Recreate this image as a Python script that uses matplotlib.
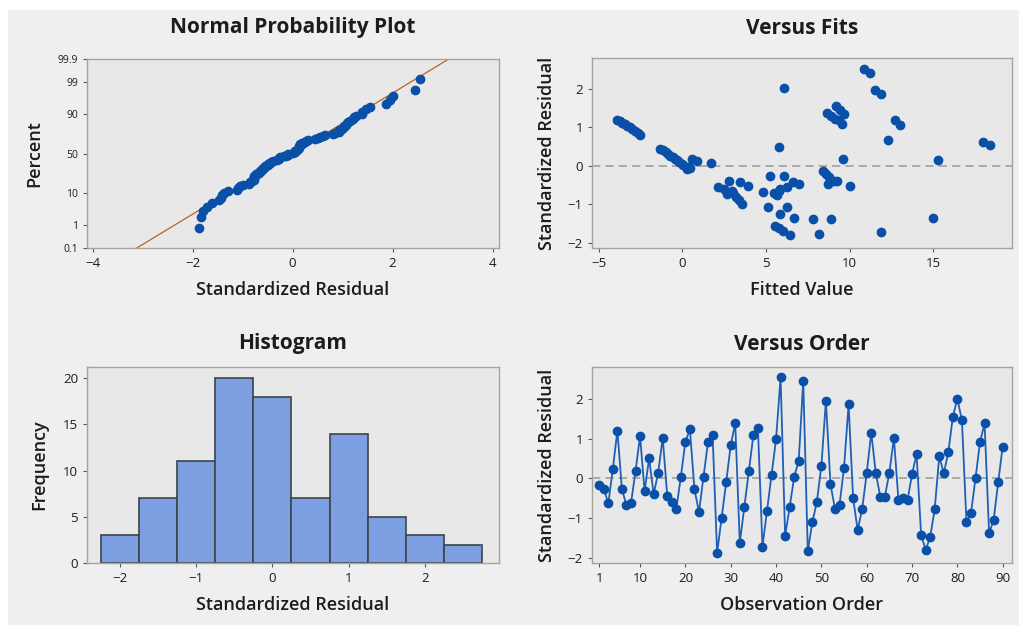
"""
Minitab-style four-in-one residual plots
"""
from statistics import NormalDist

import numpy as np
import matplotlib
matplotlib.use("Agg")
import matplotlib.pyplot as plt
from matplotlib.patches import Rectangle

plt.rcParams['font.family'] = ['Open Sans', 'DejaVu Sans']

# standardized residuals in observation order
resid = [-0.17, -0.26, -0.63, 0.24, 1.20, -0.28, -0.67, -0.63, 0.18, 1.06,
         -0.32, 0.50, -0.40, 0.14, 1.02, -0.44, -0.59, -0.77, 0.04, 0.92,
         1.23, -0.28, -0.85, 0.04, 0.92, 1.10, -1.88, -0.99, -0.10, 0.84,
         1.38, -1.62, -0.73, 0.18, 1.09, 1.27, -1.72, -0.82, 0.08, 0.98,
         2.54, -1.44, -0.73, 0.04, 0.44, 2.45, -1.83, -1.11, -0.59, 0.31,
         1.95, -0.14, -0.77, -0.67, 0.27, 1.86, -0.50, -1.30, -0.77, 0.13,
         1.15, 0.13, -0.46, -0.46, 0.14, 1.02, -0.55, -0.50, -0.55, 0.10,
         0.61, -1.42, -1.80, -1.48, -0.77, 0.55, 0.13, 0.65, 1.55, 2.00,
         1.46, -1.09, -0.88, 0.00, 0.92, 1.38, -1.38, -1.05, -0.10, 0.80]
order = list(range(1, len(resid) + 1))

# versus fits scatter (fitted value, standardized residual)
fit_x = [-3.90, -3.75, -3.60, -3.45, -3.30, -3.15, -3.00, -2.85, -2.68, -2.52,
         -1.34, -1.15, -0.98, -0.85, -0.74, -0.58, -0.44, -0.30, -0.18, -0.05,
         0.06, 0.26, 0.46, 0.56, 0.90, 0.35, 1.70,
         2.10, 2.46, 2.65, 2.81, 2.95, 3.05, 3.19, 3.37, 3.55, 3.45, 3.90,
         4.85, 5.25, 5.15, 5.45, 5.62, 5.75, 5.85, 5.81, 5.55, 5.80,
         6.00, 6.45, 6.25, 6.10, 6.25, 6.60, 6.99, 6.65, 6.10, 5.79, 5.65,
         7.80, 8.20, 8.88, 8.40, 8.60, 8.80, 9.04, 9.24, 8.74, 10.04,
         9.60, 8.64, 8.90, 9.14, 9.20, 9.44, 9.64, 9.54, 9.35,
         10.88, 11.24, 11.54, 11.88, 12.69, 13.03, 12.30, 11.88, 15.29, 14.97,
         17.96, 18.38]
fit_y = [1.20, 1.16, 1.11, 1.08, 1.03, 1.00, 0.95, 0.91, 0.85, 0.80,
         0.45, 0.40, 0.35, 0.30, 0.27, 0.23, 0.19, 0.15, 0.11, 0.06,
         0.03, -0.08, -0.06, 0.18, 0.13, -0.02, 0.08,
         -0.56, -0.60, -0.73, -0.38, -0.65, -0.71, -0.80, -0.88, -0.99, -0.43, -0.52,
         -0.67, -0.25, -1.07, -0.70, -0.72, -0.64, -0.60, -1.25, -1.57, -1.62,
         -1.68, -1.80, -1.07, -0.25, -0.56, -0.42, -0.48, -1.34, 2.01, 0.48, -0.75,
         -1.38, -1.76, -1.38, -0.13, -0.22, -0.30, -0.39, -0.39, -0.48, -0.52,
         0.17, 1.37, 1.30, 1.22, 1.56, 1.45, 1.34, 1.10, 1.20,
         2.52, 2.42, 1.97, 1.86, 1.18, 1.05, 0.67, -1.72, 0.16, -1.36,
         0.63, 0.54]

hist_bins = [-2.25, -1.75, -1.25, -0.75, -0.25, 0.25, 0.75, 1.25, 1.75, 2.25, 2.75]
pct_ticks = [0.1, 1, 10, 50, 90, 99, 99.9]
pct_labels = ["0.1", "1", "10", "50", "90", "99", "99.9"]
order_ticks = [1, 10, 20, 30, 40, 50, 60, 70, 80, 90]

BLUE = "#0a50a8"
LINE_BLUE = "#1f5fb5"
AX_BG = "#e8e8e8"
FIG_BG = "#efefef"
TXT = "#1c1c1c"

fig = plt.figure(figsize=(10.19, 6.25), dpi=100, facecolor="white")
W, H = 1019, 625
fig.patches.append(Rectangle((8 / W, 0), 1 - 8 / W, 1 - 10 / H, transform=fig.transFigure,
                             facecolor=FIG_BG, edgecolor="none", zorder=-10))


def make_ax(l, t, r, b):
    ax = fig.add_axes([l / W, 1 - b / H, (r - l) / W, (b - t) / H])
    ax.set_facecolor(AX_BG)
    for s in ax.spines.values():
        s.set_color("#a4a49a")
        s.set_linewidth(1.0)
    ax.tick_params(colors="#555555", labelcolor=TXT, labelsize=9.5, length=3, width=0.8)
    return ax


def style(ax, title, xlabel, ylabel, title_y, ylab_px):
    # title placed in pixel coords, centred over the axes
    bb = ax.get_position()
    fig.text((bb.x0 + bb.x1) / 2, 1 - title_y / H, title, ha="center", va="center",
             fontsize=15, fontweight="bold", color=TXT)
    ax.set_xlabel(xlabel, fontsize=13, color=TXT, labelpad=8, fontweight="semibold")
    ax.set_ylabel(ylabel, fontsize=13, color=TXT, fontweight="semibold")
    ax.yaxis.set_label_coords(-ylab_px / (bb.width * W), 0.5)


# --- Normal probability plot
ax1 = make_ax(87, 59, 499, 248)
nd = NormalDist()
srt = np.sort(resid)
n = len(srt)
zpos = [nd.inv_cdf((i - 0.3) / (n + 0.4)) for i in range(1, n + 1)]
mu, sd = np.mean(resid), np.std(resid, ddof=1)
zlo, zhi = nd.inv_cdf(0.001), nd.inv_cdf(0.999)
ax1.plot([mu + sd * zlo, mu + sd * zhi], [zlo, zhi], color="#b5651d", lw=0.9, zorder=2)
ax1.plot(srt, zpos, "o", color=BLUE, ms=6, zorder=3)
ax1.set_xlim(-4.11, 4.13)
ax1.set_ylim(zlo, zhi)
ax1.set_xticks([-4, -2, 0, 2, 4])
ax1.set_yticks([nd.inv_cdf(p / 100) for p in pct_ticks])
ax1.set_yticklabels(pct_labels, fontsize=7.5)
style(ax1, "Normal Probability Plot", "Standardized Residual", "Percent", 28, 44)

# --- Versus fits
ax2 = make_ax(592, 58, 1012, 248)
ax2.axhline(0, color="#a0a098", lw=1.2, ls=(0, (5, 3)), zorder=1)
ax2.plot(fit_x, fit_y, "o", color=BLUE, ms=6, zorder=3)
ax2.set_xlim(-5.41, 19.72)
ax2.set_ylim(-2.13, 2.8)
ax2.set_xticks([-5, 0, 5, 10, 15])
ax2.set_yticks([-2, -1, 0, 1, 2])
style(ax2, "Versus Fits", "Fitted Value", "Standardized Residual", 28, 36)

# --- Histogram
ax3 = make_ax(87, 367, 499, 563)
ax3.hist(resid, bins=hist_bins, color="#7b9fe0", edgecolor="#3c4448", linewidth=1.2, zorder=2)
ax3.set_xlim(-2.43, 2.97)
ax3.set_ylim(0, 21.2)
ax3.set_xticks([-2, -1, 0, 1, 2])
ax3.set_yticks([0, 5, 10, 15, 20])
style(ax3, "Histogram", "Standardized Residual", "Frequency", 344, 39)

# --- Versus order
ax4 = make_ax(592, 367, 1012, 563)
ax4.axhline(0, color="#a0a098", lw=1.2, ls=(0, (5, 3)), zorder=1)
ax4.plot(order, resid, "-", color=LINE_BLUE, lw=1.3, zorder=2)
ax4.plot(order, resid, "o", color=BLUE, ms=6, zorder=3)
ax4.set_xlim(-0.6, 92.05)
ax4.set_ylim(-2.13, 2.8)
ax4.set_xticks(order_ticks)
ax4.set_yticks([-2, -1, 0, 1, 2])
style(ax4, "Versus Order", "Observation Order", "Standardized Residual", 344, 36)

fig.savefig("out.png", dpi=100, facecolor=fig.get_facecolor())
